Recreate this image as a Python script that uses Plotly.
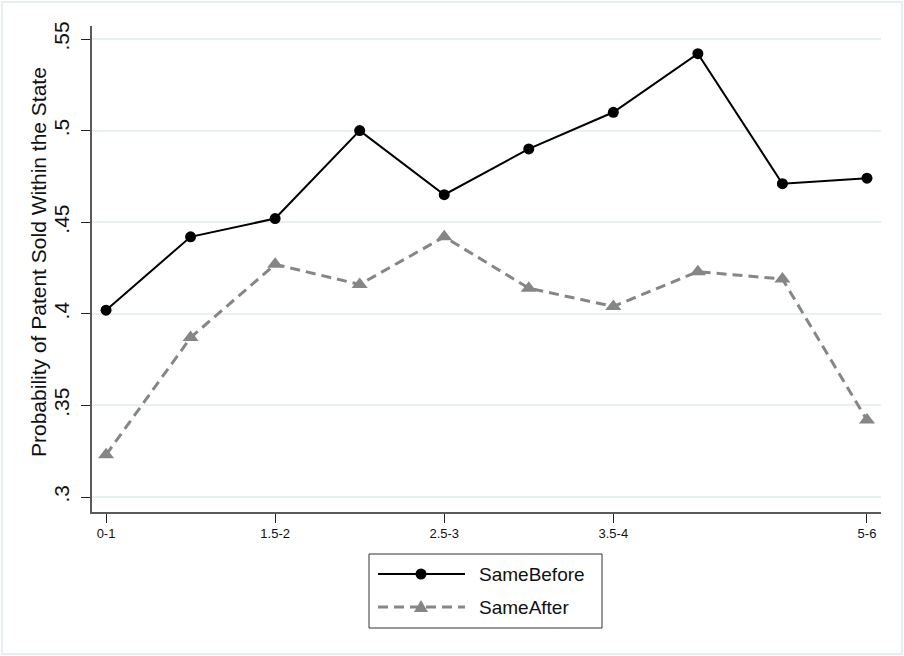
import plotly.graph_objects as go

# ---------------- data ----------------
categories = ["0-1", "1-1.5", "1.5-2", "2-2.5", "2.5-3", "3-3.5", "3.5-4", "4-4.5", "4.5-5", "5-6"]
same_before = [0.402, 0.442, 0.452, 0.500, 0.465, 0.490, 0.510, 0.542, 0.471, 0.474]
same_after = [0.323, 0.387, 0.427, 0.416, 0.442, 0.414, 0.404, 0.423, 0.419, 0.342]
x_tick_labels = ["0-1", "1.5-2", "2.5-3", "3.5-4", "5-6"]
y_tick_values = [0.3, 0.35, 0.4, 0.45, 0.5, 0.55]
y_tick_labels = [".3", ".35", ".4", ".45", ".5", ".55"]
series_names = ["SameBefore", "SameAfter"]
y_title = "Probability of Patent Sold Within the State"

# ---------------- layout geometry ----------------
W, H = 904, 656
ML, MR, MT, MB = 92, 23, 26, 144
PW, PH = W - ML - MR, H - MT - MB
FONT = "Arial, Liberation Sans, sans-serif"
BLACK = "#000000"
GRAY = "#868686"
GRID = "#E8F0F2"
AXIS = "#5a5a5a"


def px(x):
    return (x - ML) / PW


def py(y):
    return (H - MB - y) / PH


fig = go.Figure()
fig.add_trace(go.Scatter(
    x=categories, y=same_before, name=series_names[0], mode="lines+markers",
    line=dict(color=BLACK, width=2),
    marker=dict(symbol="circle", size=11, color=BLACK),
    showlegend=False,
))
fig.add_trace(go.Scatter(
    x=categories, y=same_after, name=series_names[1], mode="lines+markers",
    line=dict(color=GRAY, width=3, dash="10px,6px"),
    marker=dict(symbol="triangle-up", size=14, color=GRAY),
    showlegend=False,
))

shapes = []
annotations = []

# outer light frame
shapes.append(dict(type="rect", xref="paper", yref="paper",
                   x0=px(2), x1=px(902), y0=py(2), y1=py(654),
                   line=dict(color="#E6EEF2", width=2), layer="below"))

# legend box
lx0, lx1, ly0, ly1 = 369, 602, 554, 628
shapes.append(dict(type="rect", xref="paper", yref="paper",
                   x0=px(lx0), x1=px(lx1), y0=py(ly0), y1=py(ly1),
                   line=dict(color="#333333", width=1), fillcolor="white"))
rows = [574, 607]
styles = [dict(color=BLACK, width=2), dict(color=GRAY, width=3, dash="10px,6px")]
for r, st in zip(rows, styles):
    shapes.append(dict(type="line", xref="paper", yref="paper",
                       x0=px(378), x1=px(465), y0=py(r), y1=py(r), line=st))
# legend markers (pixel-sized, anchored at sample centre)
shapes.append(dict(type="circle", xref="paper", yref="paper",
                   xsizemode="pixel", ysizemode="pixel",
                   xanchor=px(421), yanchor=py(rows[0]),
                   x0=-5.5, x1=5.5, y0=-5.5, y1=5.5,
                   fillcolor=BLACK, line=dict(color=BLACK, width=0)))
shapes.append(dict(type="path", xref="paper", yref="paper",
                   xsizemode="pixel", ysizemode="pixel",
                   xanchor=px(421), yanchor=py(rows[1]),
                   path="M -7,-5 L 7,-5 L 0,7 Z",
                   fillcolor=GRAY, line=dict(color=GRAY, width=0)))
for r, name in zip(rows, series_names):
    annotations.append(dict(xref="paper", yref="paper", x=px(477), y=py(r),
                            xanchor="left", yanchor="middle", showarrow=False,
                            text=name, font=dict(family=FONT, size=19, color="#111111")))

# y-axis title
annotations.append(dict(xref="paper", yref="paper", x=px(38), y=py(262),
                        xanchor="center", yanchor="middle", showarrow=False,
                        textangle=-90, text=y_title,
                        font=dict(family=FONT, size=21, color="#111111")))

fig.update_layout(
    width=W, height=H,
    margin=dict(l=ML, r=MR, t=MT, b=MB, autoexpand=False),
    paper_bgcolor="white", plot_bgcolor="white",
    showlegend=False,
    shapes=shapes, annotations=annotations,
    font=dict(family=FONT, color="#111111"),
    xaxis=dict(
        type="category", categoryorder="array", categoryarray=categories,
        range=[-0.166, len(categories) - 1 + 0.166],
        tickmode="array", tickvals=x_tick_labels, ticktext=x_tick_labels,
        ticks="outside", ticklen=9, tickwidth=1, tickcolor="#222222",
        showline=True, linecolor=AXIS, linewidth=1.5,
        showgrid=False, zeroline=False,
        tickfont=dict(family=FONT, size=13, color="#111111"),
        fixedrange=True,
    ),
    yaxis=dict(
        range=[0.3 - 15 / 1832, 0.3 + 471 / 1832],
        tickmode="array", tickvals=y_tick_values, ticktext=y_tick_labels,
        tickangle=-90, ticklabelstandoff=4,
        ticks="outside", ticklen=9, tickwidth=1, tickcolor="#222222",
        showline=True, linecolor=AXIS, linewidth=1.5,
        showgrid=True, gridcolor=GRID, gridwidth=2,
        zeroline=False,
        tickfont=dict(family=FONT, size=21, color="#111111"),
        fixedrange=True,
    ),
)

fig.write_html(
    "out.html",
    config={"displayModeBar": False},
    post_script="document.body.style.margin='0px';document.body.style.overflow='hidden';",
)
